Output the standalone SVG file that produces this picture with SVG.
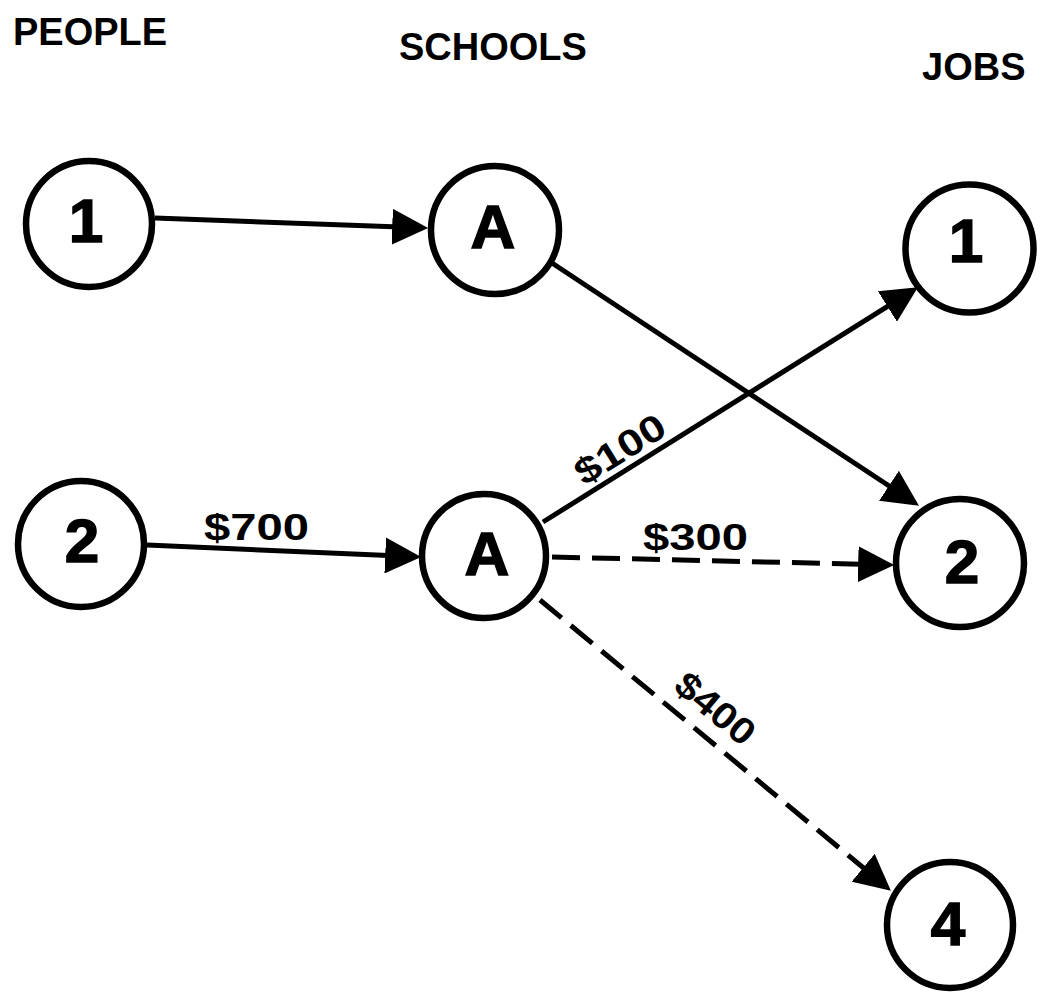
<svg xmlns="http://www.w3.org/2000/svg" width="1042" height="994" viewBox="0 0 1042 994">
  <style>
    .hdr { font-family: "Liberation Sans", Arial, Helvetica, sans-serif; font-weight: bold; font-size: 38px; fill: #000; }
    .node circle { fill: #fff; stroke: #000; stroke-width: 6.5; }
    .node text { font-family: "Liberation Sans", Arial, Helvetica, sans-serif; font-weight: bold; font-size: 62px; fill: #000; text-anchor: middle; stroke: #000; stroke-width: 1.5; }
    .edge { fill: none; stroke: #000; stroke-width: 5; }
    .dash { stroke-dasharray: 28 12; }
    .cost { font-family: "Liberation Sans", Arial, Helvetica, sans-serif; font-weight: bold; font-size: 37px; fill: #000; }
  </style>
  <defs>
    <marker id="arrow" markerUnits="userSpaceOnUse" markerWidth="36" markerHeight="36" viewBox="0 0 34 34" refX="14" refY="17" orient="auto">
      <path d="M0,0 L34,17 L0,34 Z" fill="#000"/>
    </marker>
  </defs>
  <rect width="1042" height="994" fill="#fff"/>

  <!-- column headings -->
  <text class="hdr" x="13" y="45">PEOPLE</text>
  <text class="hdr" x="399" y="60">SCHOOLS</text>
  <text class="hdr" x="922" y="80">JOBS</text>

  <!-- connectors -->
  <g id="connectors">
    <line class="edge" x1="155" y1="218" x2="407" y2="227.3" marker-end="url(#arrow)"/>
    <line class="edge" x1="552" y1="263" x2="901.3" y2="494" marker-end="url(#arrow)"/>
    <line class="edge" x1="147" y1="545" x2="400" y2="556.1" marker-end="url(#arrow)"/>
    <line class="edge" x1="543" y1="522" x2="900" y2="298.6" marker-end="url(#arrow)"/>
    <line class="edge dash" x1="552" y1="557" x2="873" y2="564.5" marker-end="url(#arrow)"/>
    <line class="edge dash" x1="540" y1="600" x2="874.6" y2="877.2" marker-end="url(#arrow)"/>
    <text class="cost" x="204" y="540" textLength="105" lengthAdjust="spacingAndGlyphs">$700</text>
    <text class="cost" x="643" y="550" textLength="105" lengthAdjust="spacingAndGlyphs">$300</text>
    <text class="cost" transform="translate(626.7 459.9) rotate(-32)" x="-50" y="0" textLength="100" lengthAdjust="spacingAndGlyphs">$100</text>
    <text class="cost" transform="translate(707.3 718.3) rotate(39.6)" x="-46" y="0" textLength="92" lengthAdjust="spacingAndGlyphs">$400</text>
  </g>

  <!-- people -->
  <g id="person-1" class="node"><circle cx="89" cy="224" r="63"/><text x="86" y="242">1</text></g>
  <g id="person-2" class="node"><circle cx="81" cy="544" r="63"/><text x="82" y="562">2</text></g>

  <!-- schools -->
  <g id="school-a-upper" class="node"><circle cx="495" cy="230" r="64"/><text x="493" y="248">A</text></g>
  <g id="school-a-lower" class="node"><circle cx="484" cy="556" r="62"/><text x="487" y="575">A</text></g>

  <!-- jobs -->
  <g id="job-1" class="node"><circle cx="969.5" cy="248.5" r="64"/><text x="966" y="262">1</text></g>
  <g id="job-2" class="node"><circle cx="960" cy="563" r="64"/><text x="962" y="583">2</text></g>
  <g id="job-4" class="node"><circle cx="950" cy="925" r="63"/><text x="948" y="945">4</text></g>
</svg>
